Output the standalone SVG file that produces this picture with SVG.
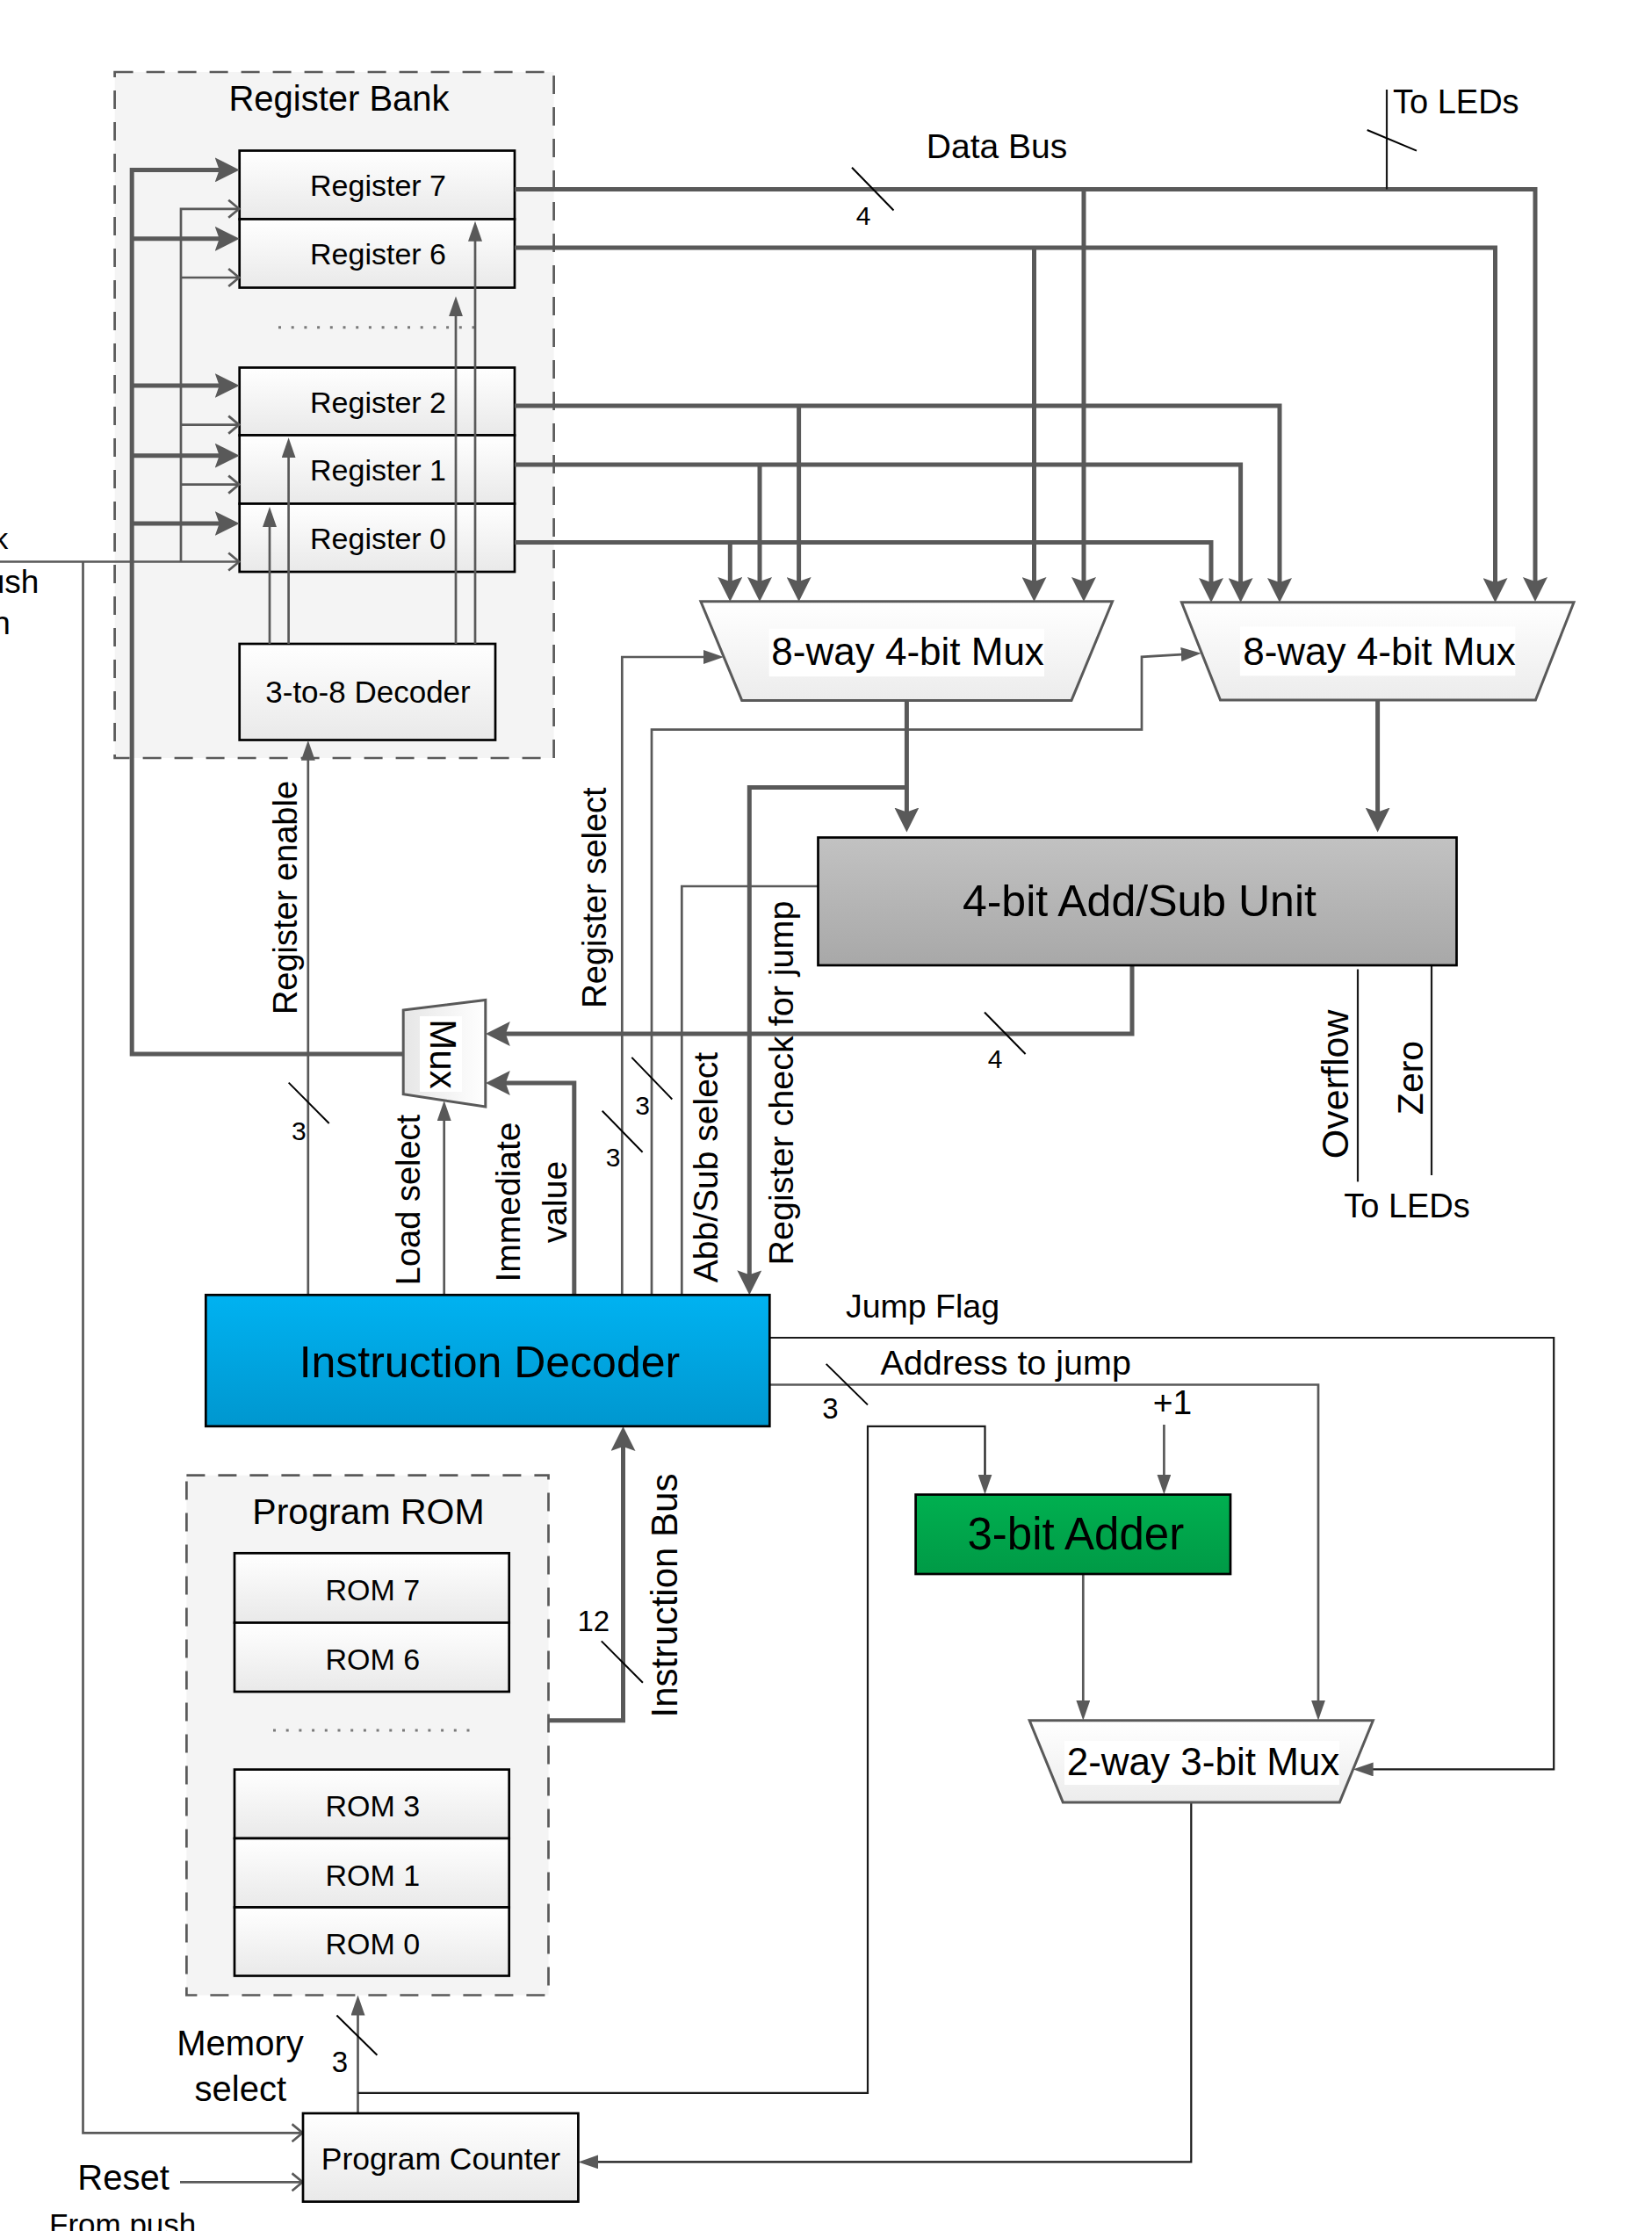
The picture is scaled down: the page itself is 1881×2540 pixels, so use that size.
<svg xmlns="http://www.w3.org/2000/svg" width="1881" height="2540" viewBox="0 0 1881 2540">
<defs>
<style>
.th{stroke:#595959;stroke-width:5;fill:none}
.tn{stroke:#595959;stroke-width:2.7;fill:none}
.bk{stroke:#1a1a1a;stroke-width:2.2;fill:none}
.sl{stroke:#000;stroke-width:2;fill:none}
.box{stroke:#000;stroke-width:2.7}
.dash{fill:#f4f4f4;stroke:#595959;stroke-width:2.7;stroke-dasharray:21 15}
.dot{stroke:#7a7a7a;stroke-width:3;stroke-dasharray:3 11.7;fill:none}
.mux{fill:url(#gMux);stroke:#595959;stroke-width:3}
text{font-family:"Liberation Sans",Arial,sans-serif;fill:#000}
.c{text-anchor:middle}
.e{text-anchor:end}
</style>
<linearGradient id="gBox" x1="0" y1="0" x2="0" y2="1"><stop offset="0" stop-color="#ffffff"/><stop offset="1" stop-color="#e9e9e9"/></linearGradient>
<linearGradient id="gMux" x1="0" y1="0" x2="0" y2="1"><stop offset="0" stop-color="#ffffff"/><stop offset="1" stop-color="#ececec"/></linearGradient>
<linearGradient id="gMuxH" x1="0" y1="0" x2="1" y2="0"><stop offset="0" stop-color="#e6e6e6"/><stop offset="1" stop-color="#ffffff"/></linearGradient>
<linearGradient id="gALU" x1="0" y1="0" x2="0" y2="1"><stop offset="0" stop-color="#c2c2c2"/><stop offset="1" stop-color="#a8a8a8"/></linearGradient>
<linearGradient id="gID" x1="0" y1="0" x2="0" y2="1"><stop offset="0" stop-color="#00b2f1"/><stop offset="1" stop-color="#0097cf"/></linearGradient>
<linearGradient id="gAdd" x1="0" y1="0" x2="0" y2="1"><stop offset="0" stop-color="#00b050"/><stop offset="1" stop-color="#009a46"/></linearGradient>
<marker id="aT" markerUnits="userSpaceOnUse" viewBox="0 0 28 28" markerWidth="28" markerHeight="28" refX="14" refY="14" orient="auto"><path d="M0,0 L28,14 L0,28 L5,14 z" fill="#595959"/></marker>
<marker id="at" markerUnits="userSpaceOnUse" viewBox="0 0 23 16" markerWidth="23" markerHeight="16" refX="13" refY="8" orient="auto"><path d="M0,0 L23,8 L0,16 z" fill="#595959"/></marker>
<marker id="ac" markerUnits="userSpaceOnUse" viewBox="0 0 16 24" markerWidth="16" markerHeight="24" refX="13.5" refY="12" orient="auto"><path d="M1,2 L13,12 L1,22" fill="none" stroke="#595959" stroke-width="2.7"/></marker>
</defs>

<g id="register-bank">
<rect class="dash" x="130.6" y="82" width="500" height="781"/>
<text class="c" x="386" y="125.5" font-size="40">Register Bank</text>
<g id="reg7"><rect class="box" fill="url(#gBox)" x="272.7" y="171.5" width="313.3" height="78"/><text class="c" x="430.5" y="223.3" font-size="34">Register 7</text></g>
<g id="reg6"><rect class="box" fill="url(#gBox)" x="272.7" y="249.5" width="313.3" height="78"/><text class="c" x="430.5" y="301.3" font-size="34">Register 6</text></g>
<line class="dot" x1="317" y1="372.8" x2="541" y2="372.8"/>
<g id="reg2"><rect class="box" fill="url(#gBox)" x="272.7" y="418.5" width="313.3" height="77"/><text class="c" x="430.5" y="470" font-size="34">Register 2</text></g>
<g id="reg1"><rect class="box" fill="url(#gBox)" x="272.7" y="495.5" width="313.3" height="78"/><text class="c" x="430.5" y="547.3" font-size="34">Register 1</text></g>
<g id="reg0"><rect class="box" fill="url(#gBox)" x="272.7" y="573.5" width="313.3" height="77.5"/><text class="c" x="430.5" y="625" font-size="34">Register 0</text></g>
<g id="decoder38"><rect class="box" fill="url(#gBox)" x="272.7" y="733" width="291.3" height="109.5"/><text class="c" x="419" y="800" font-size="35">3-to-8 Decoder</text></g>
</g>

<g id="program-rom">
<rect class="dash" x="212.4" y="1679.7" width="412.1" height="591.8"/>
<text class="c" x="419.5" y="1735" font-size="41">Program ROM</text>
<g id="rom7"><rect class="box" fill="url(#gBox)" x="267" y="1768.3" width="312.7" height="79.2"/><text class="c" x="424.3" y="1821.8" font-size="34">ROM 7</text></g>
<g id="rom6"><rect class="box" fill="url(#gBox)" x="267" y="1847.5" width="312.7" height="78.5"/><text class="c" x="424.3" y="1900.8" font-size="34">ROM 6</text></g>
<line class="dot" x1="311" y1="1970" x2="535" y2="1970"/>
<g id="rom3"><rect class="box" fill="url(#gBox)" x="267" y="2014.6" width="312.7" height="78.4"/><text class="c" x="424.3" y="2068" font-size="34">ROM 3</text></g>
<g id="rom1"><rect class="box" fill="url(#gBox)" x="267" y="2093" width="312.7" height="78.5"/><text class="c" x="424.3" y="2146.5" font-size="34">ROM 1</text></g>
<g id="rom0"><rect class="box" fill="url(#gBox)" x="267" y="2171.5" width="312.7" height="78"/><text class="c" x="424.3" y="2224.5" font-size="34">ROM 0</text></g>
</g>

<g id="connectors">
<!-- data bus from registers -->
<path class="th" d="M586,215.5 H1748 V671" marker-end="url(#aT)"/>
<path class="th" d="M1234,215.5 V671" marker-end="url(#aT)"/>
<path class="th" d="M586,282 H1702.5 V672" marker-end="url(#aT)"/>
<path class="th" d="M1177.5,282 V671" marker-end="url(#aT)"/>
<path class="th" d="M586,462 H1457 V672" marker-end="url(#aT)"/>
<path class="th" d="M909.6,462 V671" marker-end="url(#aT)"/>
<path class="th" d="M586,529 H1412.6 V672" marker-end="url(#aT)"/>
<path class="th" d="M865,529 V671" marker-end="url(#aT)"/>
<path class="th" d="M586,617.5 H1379 V672" marker-end="url(#aT)"/>
<path class="th" d="M831.3,617.5 V671" marker-end="url(#aT)"/>
<line class="bk" x1="1579" y1="102" x2="1579" y2="215.5"/>
<!-- write-back bus into registers -->
<path class="th" d="M459.2,1200 H150.2 V193.4 H258.7" marker-end="url(#aT)"/>
<path class="th" d="M150.2,271.8 H258.7" marker-end="url(#aT)"/>
<path class="th" d="M150.2,439 H258.7" marker-end="url(#aT)"/>
<path class="th" d="M150.2,518.7 H258.7" marker-end="url(#aT)"/>
<path class="th" d="M150.2,596 H258.7" marker-end="url(#aT)"/>
<!-- clock -->
<path class="tn" d="M0,639.5 H272.7" marker-end="url(#ac)"/>
<path class="tn" d="M206,639.5 V237.8 H272.7" marker-end="url(#ac)"/>
<path class="tn" d="M206,316 H272.7" marker-end="url(#ac)"/>
<path class="tn" d="M206,483.6 H272.7" marker-end="url(#ac)"/>
<path class="tn" d="M206,551.6 H272.7" marker-end="url(#ac)"/>
<path class="tn" d="M94.5,639.5 V2428.3 H345" marker-end="url(#ac)"/>
<path class="tn" d="M205,2484.3 H345" marker-end="url(#ac)"/>
<!-- decoder outputs -->
<path class="tn" d="M307,733 V587" marker-end="url(#at)"/>
<path class="tn" d="M328.6,733 V508.3" marker-end="url(#at)"/>
<path class="tn" d="M519,733 V347.3" marker-end="url(#at)"/>
<path class="tn" d="M541,733 V261.7" marker-end="url(#at)"/>
<!-- instruction decoder outputs -->
<path class="tn" d="M350.8,1474.3 V852.8" marker-end="url(#at)"/>
<path class="tn" d="M505.7,1474.3 V1263" marker-end="url(#at)"/>
<path class="th" d="M653.8,1474.3 V1233 H566.8" marker-end="url(#aT)"/>
<path class="th" d="M1289,1099 V1177 H566.8" marker-end="url(#aT)"/>
<path class="tn" d="M708.3,1474.3 V748 H814" marker-end="url(#at)"/>
<path class="tn" d="M742,1474.3 V830.7 H1300 V747.8 L1357.8,744.3" marker-end="url(#at)"/>
<path class="tn" d="M776.3,1474.3 V1009 H931.5"/>
<path class="th" d="M1032.4,896.5 H853.3 V1460.3" marker-end="url(#aT)"/>
<path class="th" d="M1032.4,797.4 V933.5" marker-end="url(#aT)"/>
<path class="th" d="M1568.6,797 V933.5" marker-end="url(#aT)"/>
<!-- flags -->
<line class="bk" x1="1546" y1="1103.5" x2="1546" y2="1345.4"/>
<line class="bk" x1="1630" y1="1097" x2="1630" y2="1338"/>
<!-- instruction bus -->
<path class="th" d="M624.5,1958.8 H709.5 V1638" marker-end="url(#aT)"/>
<!-- program counter loop -->
<path class="tn" d="M407.5,2406 V2281.5" marker-end="url(#at)"/>
<path class="bk" d="M407.5,2382.8 H988 V1623.8 H1121.5 V1691.6" marker-end="url(#at)"/>
<path class="tn" d="M1325.4,1622 V1691.6" marker-end="url(#at)"/>
<path class="tn" d="M1233.3,1792 V1948.7" marker-end="url(#at)"/>
<path class="tn" d="M876.3,1576.5 H1501 V1948.7" marker-end="url(#at)"/>
<path class="bk" d="M876.3,1523 H1769.2 V2014.4 H1550.6" marker-end="url(#at)"/>
<path class="bk" d="M1356.3,2051.9 V2461.4 H668.4" marker-end="url(#at)"/>
<!-- bus width slashes -->
<line class="sl" x1="970" y1="190.8" x2="1017.5" y2="239.5"/>
<line class="sl" x1="1556.7" y1="148" x2="1613" y2="171.6"/>
<line class="sl" x1="328.7" y1="1232.6" x2="374.7" y2="1279"/>
<line class="sl" x1="719.3" y1="1203.9" x2="765.3" y2="1251.5"/>
<line class="sl" x1="685.7" y1="1264.7" x2="731.6" y2="1311.8"/>
<line class="sl" x1="1121" y1="1152.5" x2="1167.6" y2="1200"/>
<line class="sl" x1="684.8" y1="1868.4" x2="731.9" y2="1915.7"/>
<line class="sl" x1="383.4" y1="2294.5" x2="429.4" y2="2339.8"/>
<line class="sl" x1="940.7" y1="1552.9" x2="988" y2="1599.4"/>
</g>

<g id="mux-a">
<polygon class="mux" points="797.9,684.8 1266.6,684.8 1220,797.4 844.7,797.4"/>
<rect x="875.7" y="715.8" width="313.3" height="54.4" fill="#fff"/>
<text class="c" x="1033.6" y="757" font-size="44">8-way 4-bit Mux</text>
</g>
<g id="mux-b">
<polygon class="mux" points="1345.4,685.8 1792,685.8 1748.4,797 1389.5,797"/>
<rect x="1411.9" y="713.4" width="313.4" height="56" fill="#fff"/>
<text class="c" x="1570.5" y="757" font-size="44">8-way 4-bit Mux</text>
</g>
<g id="alu">
<rect class="box" fill="url(#gALU)" x="931.5" y="953.5" width="727" height="145.5"/>
<text class="c" x="1297.4" y="1043" font-size="50">4-bit Add/Sub Unit</text>
</g>
<g id="load-mux">
<polygon points="459.2,1150 552.8,1138.4 552.8,1260 459.2,1245.8" fill="url(#gMuxH)" stroke="#595959" stroke-width="3"/>
<rect x="478" y="1157" width="48" height="86" fill="#fff"/>
<text class="c" x="490" y="1200" font-size="42" transform="rotate(90 490 1200)">Mux</text>
</g>
<g id="instruction-decoder">
<rect class="box" fill="url(#gID)" stroke-width="3" x="234.3" y="1474.3" width="642" height="149.5"/>
<text class="c" x="557.4" y="1568" font-size="50">Instruction Decoder</text>
</g>
<g id="adder">
<rect class="box" fill="url(#gAdd)" stroke-width="3" x="1042.6" y="1701.6" width="358.4" height="90.4"/>
<text class="c" x="1224.8" y="1764" font-size="51">3-bit Adder</text>
</g>
<g id="mux-pc">
<polygon class="mux" points="1172.2,1958.7 1563.4,1958.7 1525.3,2051.9 1210.3,2051.9"/>
<rect x="1212" y="1982" width="313" height="50" fill="#fff"/>
<text class="c" x="1370" y="2021" font-size="44">2-way 3-bit Mux</text>
</g>
<g id="program-counter">
<rect class="box" fill="url(#gBox)" stroke-width="3" x="345" y="2406" width="313.4" height="100.6"/>
<text class="c" x="502" y="2470" font-size="35.5">Program Counter</text>
</g>

<g id="labels">
<text class="c" x="1135" y="179.6" font-size="39">Data Bus</text>
<text x="1586" y="129" font-size="38">To LEDs</text>
<text class="c" x="983" y="256" font-size="30">4</text>
<text class="c" x="1133" y="1215.5" font-size="30">4</text>
<text class="c" x="340.4" y="1297.5" font-size="30">3</text>
<text class="c" x="731.6" y="1268.5" font-size="30">3</text>
<text class="c" x="698" y="1327.5" font-size="30">3</text>
<text class="c" x="675.8" y="1856.6" font-size="33">12</text>
<text class="c" x="386.9" y="2359" font-size="33">3</text>
<text class="c" x="945.4" y="1614.7" font-size="33">3</text>
<text class="c" x="338" y="1022" font-size="38" transform="rotate(-90 338 1022)">Register enable</text>
<text class="c" x="690" y="1022" font-size="38" transform="rotate(-90 690 1022)">Register select</text>
<text class="c" x="477.5" y="1366" font-size="38" transform="rotate(-90 477.5 1366)">Load select</text>
<text class="c" x="592" y="1368.5" font-size="39" transform="rotate(-90 592 1368.5)">Immediate</text>
<text class="c" x="645" y="1368.5" font-size="39" transform="rotate(-90 645 1368.5)">value</text>
<text class="c" x="817" y="1329" font-size="39" transform="rotate(-90 817 1329)">Abb/Sub select</text>
<text class="c" x="903" y="1233" font-size="39.5" transform="rotate(-90 903 1233)">Register check for jump</text>
<text class="c" x="771" y="1816.5" font-size="42" transform="rotate(-90 771 1816.5)">Instruction Bus</text>
<text class="c" x="1535.5" y="1234.4" font-size="43" transform="rotate(-90 1535.5 1234.4)">Overflow</text>
<text class="c" x="1620" y="1227" font-size="41" transform="rotate(-90 1620 1227)">Zero</text>
<text class="c" x="1602" y="1386.2" font-size="38">To LEDs</text>
<text x="963" y="1500" font-size="37.5">Jump Flag</text>
<text x="1002.5" y="1564.7" font-size="39.5">Address to jump</text>
<text class="c" x="1335" y="1610" font-size="39">+1</text>
<text class="c" x="273.5" y="2339.8" font-size="40">Memory</text>
<text class="c" x="273.8" y="2391.7" font-size="40">select</text>
<text class="c" x="140.5" y="2492.7" font-size="40">Reset</text>
<text x="56" y="2545" font-size="35">From push</text>
<text class="e" x="9.3" y="625" font-size="34">k</text>
<text class="e" x="44.3" y="675" font-size="37">ush</text>
<text class="e" x="11.7" y="721.7" font-size="37">n</text>
</g>
</svg>
